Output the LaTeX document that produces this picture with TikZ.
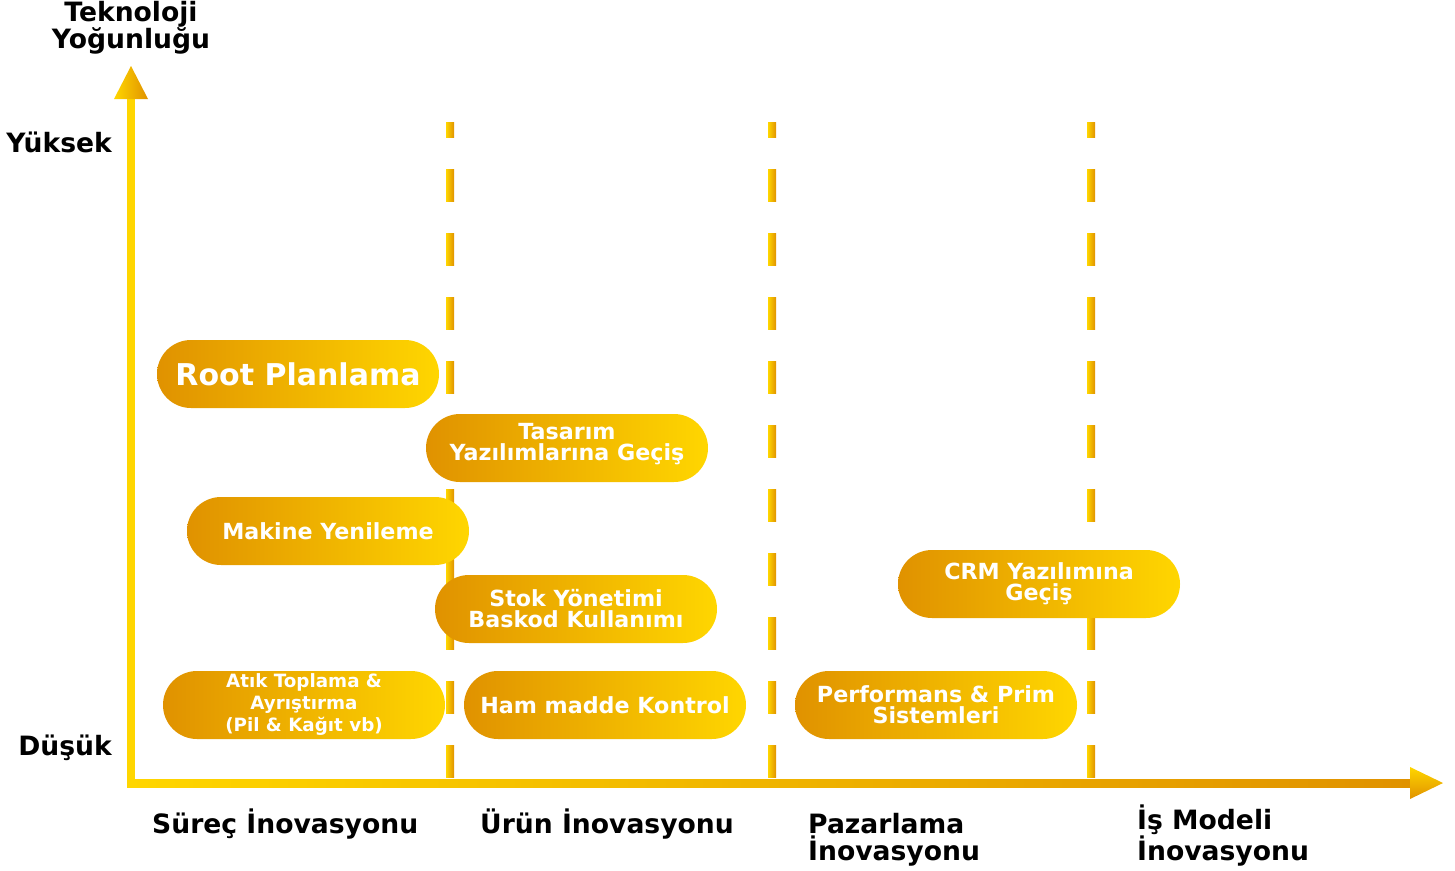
\documentclass[tikz,border=0pt]{standalone}
\usepackage{fontspec}
\setmainfont{DejaVu Sans}
\usetikzlibrary{positioning}
\definecolor{Gold}{RGB}{255, 214, 0}
\definecolor{Amber}{RGB}{224, 146, 0}

\begin{document}
\begin{tikzpicture}[x=1pt, y=-1pt,
    pill/.style={rectangle, rounded corners=34pt, minimum width=282pt, minimum height=68pt,
        left color=Amber, right color=Gold, text=white, align=center, inner sep=0pt,
        font=\bfseries\fontsize{22.2}{21}\selectfont},
    axislabel/.style={font=\bfseries\fontsize{26.6}{27}\selectfont, inner sep=0pt}]
    \useasboundingbox (0,0) rectangle (1455,870);

    % Category separators
    \foreach \xd in {450, 772, 1091} {
        \shade[left color=Gold, right color=Amber] (\xd-4,122) rectangle (\xd+4,137);
        \foreach \k in {0,...,9}
            \shade[left color=Gold, right color=Amber] (\xd-4,169+64*\k) rectangle (\xd+4,201+64*\k);
    }

    % Axes
    \fill[Gold] (127,98) rectangle (135,787);
    \shade[left color=Gold, right color=Amber] (114,99) -- (131,66) -- (148,99) -- cycle;
    \shade[left color=Gold, right color=Amber] (127,779) rectangle (1411,787);
    \shade[top color=Gold, bottom color=Amber] (1410,767) -- (1443,783) -- (1410,799) -- cycle;

    % Axis labels
    \node[axislabel, align=center] (tech) at (131,28) {Teknoloji\\Yoğunluğu};
    \node[axislabel, anchor=base east] (high) at (112,152) {Yüksek};
    \node[axislabel, anchor=base east] (low) at (112,755) {Düşük};
    \node[axislabel, anchor=base west] (surec) at (152,833) {Süreç İnovasyonu};
    \node[axislabel, anchor=base west] (urun) at (480,833) {Ürün İnovasyonu};
    \node[axislabel, anchor=base west, align=left] (pazarlama) at (808,860) {Pazarlama\\İnovasyonu};
    \node[axislabel, anchor=base west, align=left] (ismodeli) at (1137,860) {İş Modeli\\İnovasyonu};

    % Projects
    \node[pill, font=\bfseries\fontsize{30}{30}\selectfont] (root) at (298,374) {Root Planlama};
    \node[pill, text depth=12pt] (tasarim) at (567,448) {Tasarım\\Yazılımlarına Geçiş};
    \node[pill] (makine) at (328,531) {Makine Yenileme};
    \node[pill] (stok) at (576,609) {Stok Yönetimi\\Baskod Kullanımı};
    \node[pill] (crm) at (1039,584) {CRM Yazılımına\\Geçiş};
    \node[pill, font=\bfseries\fontsize{18.3}{22}\selectfont] (atik) at (304,705) {Atık Toplama \&\\Ayrıştırma\\(Pil \& Kağıt vb)};
    \node[pill] (hammadde) at (605,705) {Ham madde Kontrol};
    \node[pill] (performans) at (936,705) {Performans \& Prim\\Sistemleri};
\end{tikzpicture}
\end{document}
